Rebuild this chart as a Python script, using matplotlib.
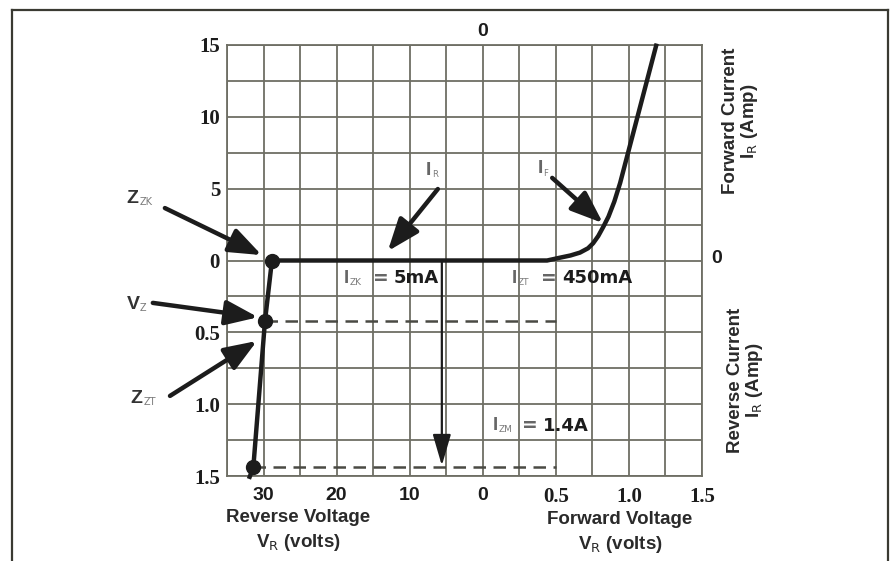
import matplotlib
matplotlib.use("Agg")
import matplotlib.pyplot as plt
from matplotlib.lines import Line2D
import numpy as np

# zener diode V-I characteristic
# reverse branch (volts, amps)
REV_V = [32.0, 31.4, 29.8, 28.85]
REV_I = [1.52, 1.44, 0.42, 0.0]
# forward branch (volts, amps)
FWD_V = [0.0, 0.44, 0.53, 0.6, 0.665, 0.72, 0.755, 0.79, 0.825, 0.86, 0.9, 0.94, 1.19]
FWD_I = [0.0, 0.0, 0.2, 0.35, 0.55, 0.85, 1.2, 1.7, 2.35, 3.05, 4.1, 5.4, 15.1]

# marked points on the reverse branch
ZZK_PT = (28.85, 0.0)
VZ_PT = (29.8, 0.42)
IZM_PT = (31.4, 1.44)
ARROW_V = 5.6  # reverse voltage of the down arrow

X_REV_TICKS = [30, 20, 10, 0]
X_FWD_TICKS = [0.5, 1.0, 1.5]
Y_FWD_TICKS = [15, 10, 5, 0]
Y_REV_TICKS = [0.5, 1.0, 1.5]
X_TICK_LABELS = ["30", "20", "10", "0", "0.5", "1.0", "1.5"]
Y_TICK_LABELS = ["15", "10", "5", "0", "0.5", "1.0", "1.5"]

GRID = "#6e6e64"
INK = "#1c1c1c"
GREY = "#7a7a7a"


# the chart is drawn on a grid of 13 x 12 cells, each half of the original's scales
def rev_col(v):
    return 7 - np.asarray(v, dtype=float) / 5


def fwd_col(v):
    return 7 + np.asarray(v, dtype=float) * 4


def fwd_row(i):
    return np.asarray(i, dtype=float) * 0.4


def rev_row(i):
    return -np.asarray(i, dtype=float) * 4


fig = plt.figure(figsize=(8.96, 5.61), dpi=100)
fig.patch.set_facecolor("white")
ax = fig.add_axes([227 / 896, 85 / 561, 475 / 896, 431 / 561])
ax.set_xlim(0, 13)
ax.set_ylim(-6, 6)

# grid
ax.set_xticks(np.arange(0, 14), minor=True)
ax.set_yticks(np.arange(-6, 7), minor=True)
ax.set_xticks(np.concatenate([rev_col(X_REV_TICKS), fwd_col(X_FWD_TICKS)]))
ax.set_yticks(np.concatenate([fwd_row(Y_FWD_TICKS), rev_row(Y_REV_TICKS)]))
ax.set_xticklabels(X_TICK_LABELS)
ax.set_yticklabels(Y_TICK_LABELS)
ax.grid(True, which="both", color=GRID, lw=1.3)
ax.set_axisbelow(True)
ax.tick_params(which="both", length=0)
ax.tick_params(axis="x", pad=8, colors=INK)
ax.tick_params(axis="y", pad=5, colors=INK)
for lab in ax.get_yticklabels():
    lab.set_fontfamily("Liberation Serif")
    lab.set_fontweight("bold")
    lab.set_fontsize(15)
for lab in ax.get_xticklabels():
    lab.set_fontweight("bold")
    if "." in lab.get_text():
        lab.set_fontfamily("Liberation Serif")
        lab.set_fontsize(15)
    else:
        lab.set_fontfamily("Liberation Sans")
        lab.set_fontsize(14)
for sp in ax.spines.values():
    sp.set_color(GRID)
    sp.set_linewidth(1.3)

# characteristic curve
curve_x = np.concatenate([rev_col(REV_V), fwd_col(FWD_V)])
curve_y = np.concatenate([rev_row(REV_I), fwd_row(FWD_I)])
ax.plot(curve_x, curve_y, color=INK, lw=3.2, solid_capstyle="butt",
        solid_joinstyle="round", clip_on=False, zorder=4)
for v, i in [ZZK_PT, VZ_PT, IZM_PT]:
    ax.plot(rev_col(v), rev_row(i), "o", color=INK, ms=10, zorder=5, clip_on=False)

# dashed guide lines
for v, i in [VZ_PT, IZM_PT]:
    ax.plot([rev_col(v), fwd_col(0.5)], [rev_row(i), rev_row(i)], color="#4a4a44",
            lw=1.8, ls=(0, (5, 3)), zorder=3)

# down arrow from I_ZK to I_ZM
ax.annotate("", xy=(rev_col(ARROW_V), rev_row(IZM_PT[1]) + 0.05),
            xytext=(rev_col(ARROW_V), -0.05),
            arrowprops=dict(arrowstyle="-|>,head_length=1.2,head_width=0.35",
                            color=INK, lw=1.6, mutation_scale=16, shrinkA=0, shrinkB=0),
            zorder=4)

# pointer arrows
big_arrow = dict(arrowstyle="-|>,head_length=1.1,head_width=0.42", color=INK, lw=3.2,
                 mutation_scale=18, shrinkA=0, shrinkB=0)
pointers = [
    ("Z", "ZK", (-2.75, 1.74), (-1.70, 1.46), (0.95, 0.15)),
    ("V", "Z", (-2.75, -1.22), (-2.03, -1.18), (0.85, -1.58)),
    ("Z", "ZT", (-2.65, -3.83), (-1.56, -3.77), (0.82, -2.24)),
]
for big, small, lab_xy, tail, tip in pointers:
    ax.annotate("", xy=tip, xytext=tail, arrowprops=big_arrow, annotation_clip=False,
                zorder=6)
    ax.text(lab_xy[0], lab_xy[1], big, fontsize=14, fontweight="bold", color="#333333",
            fontfamily="Liberation Sans", ha="left", va="center", clip_on=False)
    ax.annotate(small, lab_xy, xytext=(9.5, -3), textcoords="offset points", fontsize=7,
                color=GREY, ha="left", va="center", annotation_clip=False)

for small, lab_xy, tail, tip in [("R", (5.45, 2.5), (5.77, 1.99), (4.4, 0.26)),
                                 ("F", (8.5, 2.55), (8.9, 2.3), (10.29, 1.04))]:
    ax.annotate("", xy=tip, xytext=tail, arrowprops=big_arrow, zorder=6)
    ax.text(lab_xy[0], lab_xy[1], "I", fontsize=14, fontweight="bold", color="#666666",
            fontfamily="Liberation Sans", ha="left", va="center")
    ax.annotate(small, lab_xy, xytext=(4, -3), textcoords="offset points", fontsize=6,
                color=GREY, ha="left", va="center")


def current_label(x, y, sub, value):
    ax.text(x, y, "I", fontsize=13.5, fontweight="bold", color="#666666",
            fontfamily="Liberation Sans", ha="left", va="center", zorder=6)
    ax.annotate(sub, (x, y), xytext=(4, -3), textcoords="offset points", fontsize=6.5,
                color=GREY, ha="left", va="center", zorder=6)
    ax.annotate("=", (x, y), xytext=(21, 0), textcoords="offset points", fontsize=13.5,
                fontweight="bold", color="#666666", ha="left", va="center", zorder=6)
    ax.annotate(value, (x, y), xytext=(36, 0), textcoords="offset points", fontsize=13,
                fontweight="bold", color=INK, fontfamily="DejaVu Sans",
                ha="left", va="center", zorder=6)


current_label(3.2, -0.5, "ZK", "5mA")
current_label(7.8, -0.5, "ZT", "450mA")
current_label(7.28, -4.6, "ZM", "1.4A")

# zero marks on top and right
ax.text(7, 6.15, "0", fontsize=14, fontweight="bold", color=INK,
        fontfamily="Liberation Sans", ha="center", va="bottom")
ax.text(13.25, 0.05, "0", fontsize=14, fontweight="bold", color=INK,
        fontfamily="Liberation Sans", ha="left", va="center")

# axis titles
title_kw = dict(fontsize=13.5, fontweight="bold", color="#2a2a2a",
                fontfamily="Liberation Sans", multialignment="center")
fig.text(741 / 896, 1 - 121 / 561, "Forward Current\nI$_{\\rm R}$ (Amp)", rotation=90,
         ha="center", va="center", linespacing=1.05, **title_kw)
fig.text(746 / 896, 1 - 380 / 561, "Reverse Current\nI$_{\\rm R}$ (Amp)", rotation=90,
         ha="center", va="center", linespacing=1.05, **title_kw)
fig.text(298 / 896, 1 - 531 / 561, "Reverse Voltage\nV$_{\\rm R}$ (volts)",
         ha="center", va="center", linespacing=1.35, **title_kw)
fig.text(620 / 896, 1 - 533 / 561, "Forward Voltage\nV$_{\\rm R}$ (volts)",
         ha="center", va="center", linespacing=1.35, **title_kw)

# outer frame of the printed figure
frame = dict(color="#3a3a32", lw=1.6, transform=fig.transFigure)
fig.add_artist(Line2D([12 / 896, 12 / 896], [0, 1 - 10 / 561], **frame))
fig.add_artist(Line2D([12 / 896, 888 / 896], [1 - 10 / 561, 1 - 10 / 561], **frame))
fig.add_artist(Line2D([888 / 896, 888 / 896], [0, 1 - 10 / 561], **frame))

fig.savefig("out.png", dpi=100)
